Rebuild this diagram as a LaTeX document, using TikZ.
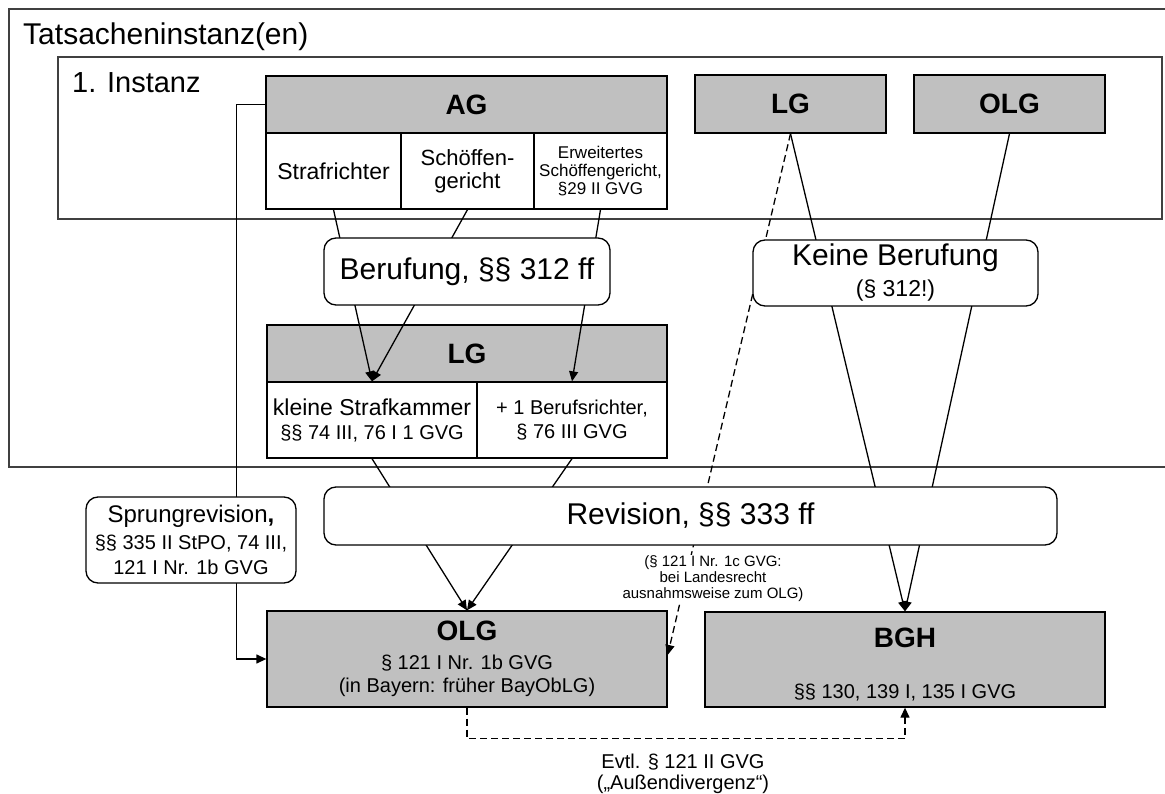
\documentclass[tikz,border=0pt]{standalone}
\usepackage{fontspec}
\setmainfont{Liberation Sans}
\usetikzlibrary{arrows.meta}
\definecolor{courtgray}{RGB}{192,192,192}
\newcommand{\fsz}[2]{\fontsize{#1}{#2}\selectfont}

\begin{document}
\begin{tikzpicture}[x=1pt,y=1pt,
    court/.style={draw=black, fill=courtgray, line width=1.3pt, align=center},
    cell/.style={draw=black, fill=white, line width=1.3pt, align=center},
    remedy/.style={draw=black, fill=white, line width=1.3pt, rounded corners=12pt, align=center},
    frame/.style={draw=black!75, line width=1.3pt},
    appeal/.style={line width=1.3pt, -{Triangle[length=10pt,width=9pt]}},
    maybe/.style={appeal, dash pattern=on 7pt off 4pt}]
    \tikzstyle{every node}+=[inner sep=0pt]
    \useasboundingbox (0,0) rectangle (1165,-794);
    \draw [frame] (1170,-9) -- (9,-9) -- (9,-467) -- (1170,-467);
    \node [anchor=base west, font=\fsz{30}{34}] (tatsachen) at (23,-45) {Tatsacheninstanz(en)};
    \draw [frame] (58,-57) rectangle (1162,-219);
    \node [anchor=base west, font=\fsz{29}{34}] (erste) at (72,-93) {1. Instanz};
    % courts of first instance
    \node [court, minimum width=401pt, minimum height=57pt, font=\fsz{28}{32}\bfseries] (agHead) at (466.5,-104.5) {AG};
    \node [cell, minimum width=135pt, minimum height=76pt, font=\fsz{23}{27}] (strafr) at (333.5,-171) {Strafrichter};
    \node [cell, minimum width=133pt, minimum height=76pt, font=\fsz{22}{23}] (schoeff) at (467.5,-171) {Schöffen-\\gericht};
    \node [cell, minimum width=133pt, minimum height=76pt, font=\fsz{17}{18}] (erweit) at (600.5,-171) {Erweitertes\\Schöffengericht,\\§29 II GVG};
    \node [court, minimum width=191pt, minimum height=58pt, font=\fsz{28}{32}\bfseries] (lgTop) at (790.5,-104) {LG};
    \node [court, minimum width=191pt, minimum height=58pt, font=\fsz{28}{32}\bfseries] (olgTop) at (1009.5,-104) {OLG};
    % Berufungsinstanz
    \node [court, minimum width=400pt, minimum height=57pt, font=\fsz{28}{32}\bfseries] (lgHead) at (467,-353.5) {LG};
    \node [cell, minimum width=210pt, minimum height=76pt, font=\fsz{20}{24}] (kleine) at (372,-420) {{\fsz{23}{24}kleine Strafkammer}\\§§ 74 III, 76 I 1 GVG};
    \node [cell, minimum width=190pt, minimum height=76pt, font=\fsz{20}{24}] (plus) at (572,-420) {+ 1 Berufsrichter,\\§ 76 III GVG};
    % Revisionsgerichte
    \node [court, minimum width=400pt, minimum height=96pt, font=\fsz{20}{23}] (olgBot) at (467,-659) {{\fsz{28}{23}\bfseries OLG}\\[6pt]§ 121 I Nr. 1b GVG\\(in Bayern: früher BayObLG)};
    \node [court, minimum width=400pt, minimum height=95pt, font=\fsz{20}{23}] (bgh) at (905,-659.5) {{\fsz{28}{23}\bfseries\rule{0pt}{30pt}BGH}\\[28pt]§§ 130, 139 I, 135 I GVG};
    % Rechtsmittel
    \draw [appeal] (strafr.south) -- (kleine.north);
    \draw [appeal] (schoeff.south) -- (kleine.north);
    \draw [appeal] (erweit.south) -- (plus.north);
    \draw [appeal] (kleine.south) -- (olgBot.north);
    \draw [appeal] (plus.south) -- (olgBot.north);
    \draw [appeal] (lgTop.south) -- (bgh.north);
    \draw [appeal] (olgTop.south) -- (bgh.north);
    \draw [maybe] (lgTop.south) -- ([yshift=4pt]olgBot.east);
    \draw [appeal] (agHead.west) -- ++(-29,0) |- (olgBot.west);
    \draw [maybe] (olgBot.south) -- ++(0,-31) -| (bgh.south);
    \node [remedy, minimum width=286pt, minimum height=67pt, font=\fsz{30}{34}] (berufung) at (467,-271.5) {Berufung, §§ 312 ff};
    \node [remedy, minimum width=285pt, minimum height=66pt, font=\fsz{30}{31}] (keine) at (895.5,-273) {Keine Berufung\\{\fsz{23}{31}(§ 312!)}};
    \node [remedy, minimum width=733pt, minimum height=58pt, font=\fsz{30}{34}] (revision) at (690.5,-516) {Revision, §§ 333 ff};
    \node [remedy, minimum width=210pt, minimum height=86pt, font=\fsz{20}{25}] (sprung) at (191,-540) {{\fsz{24}{25}Sprungrevision\textbf{,}}\\[2pt]§§ 335 II StPO, 74 III,\\121 I Nr. 1b GVG};
    \node [fill=white, inner sep=1pt, align=center, font=\fsz{15}{16}] (landesrecht) at (713,-579) {(§ 121 I Nr. 1c GVG:\\bei Landesrecht\\ausnahmsweise zum OLG)};
    \node [align=center, font=\fsz{20}{21}] (divergenz) at (683,-774) {Evtl. § 121 II GVG\\(„Außendivergenz“)};
\end{tikzpicture}
\end{document}
